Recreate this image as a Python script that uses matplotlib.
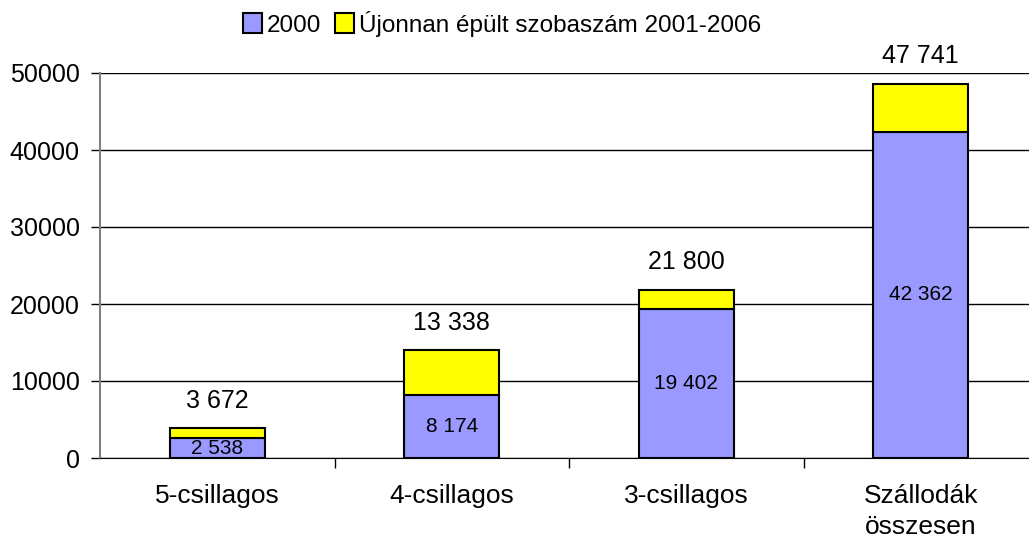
import matplotlib.pyplot as plt
import numpy as np

plt.rcParams['font.family'] = ['Liberation Sans', 'DejaVu Sans']

categories = ["5-csillagos", "4-csillagos", "3-csillagos", "Szállodák\nösszesen"]
rooms_2000 = [2538, 8174, 19402, 42362]
new_rooms = [1370, 5880, 2450, 6240]
top_labels = ["3 672", "13 338", "21 800", "47 741"]
inner_labels = ["2 538", "8 174", "19 402", "42 362"]

fig = plt.figure(figsize=(10.29, 5.37), dpi=100)
ax = fig.add_axes([100 / 1029, 79 / 537, 938 / 1029, 385 / 537])

x = np.arange(len(categories))
w = 0.405
b1 = ax.bar(x, rooms_2000, w, color="#9999FF", edgecolor="black", linewidth=1.5,
            label="2000", zorder=3)
b2 = ax.bar(x, new_rooms, w, bottom=rooms_2000, color="#FFFF00", edgecolor="black",
            linewidth=1.5, label="Újonnan épült szobaszám 2001-2006", zorder=3)

for i in range(len(categories)):
    ax.text(x[i], rooms_2000[i] / 2, inner_labels[i], ha="center", va="center",
            fontsize=15, zorder=4)
    top = rooms_2000[i] + new_rooms[i]
    ax.annotate(top_labels[i], (x[i], top), xytext=(0, 11), textcoords="offset points",
                ha="center", va="bottom", fontsize=18)

ax.set_ylim(0, 50000)
ax.set_xlim(-0.5, 3.5)
ax.set_yticks(range(0, 50001, 10000))
ax.yaxis.grid(True, color="black", linewidth=1)
ax.set_axisbelow(True)
ax.tick_params(axis="y", labelsize=18, length=6.5, width=1, color="black", pad=8)

ax.set_xticks(x)
ax.set_xticklabels(categories, linespacing=1.35)
ax.set_xticks([0.5, 1.5, 2.5], minor=True)
ax.tick_params(axis="x", which="major", length=0, labelsize=19, pad=19)
ax.tick_params(axis="x", which="minor", length=7, width=1, color="black")

for s in ["top", "right"]:
    ax.spines[s].set_visible(False)
ax.spines["left"].set_color("#808080")
ax.spines["left"].set_linewidth(1.5)
ax.spines["bottom"].set_color("black")

fig.legend(handles=[b1, b2], loc="upper center", bbox_to_anchor=(502 / 1029, 1.012),
           ncol=2, frameon=False, fontsize=17.5, handlelength=0.75, handleheight=0.9,
           handletextpad=0.2, columnspacing=0.6, borderpad=0.2)

fig.savefig("out.png", dpi=100)
